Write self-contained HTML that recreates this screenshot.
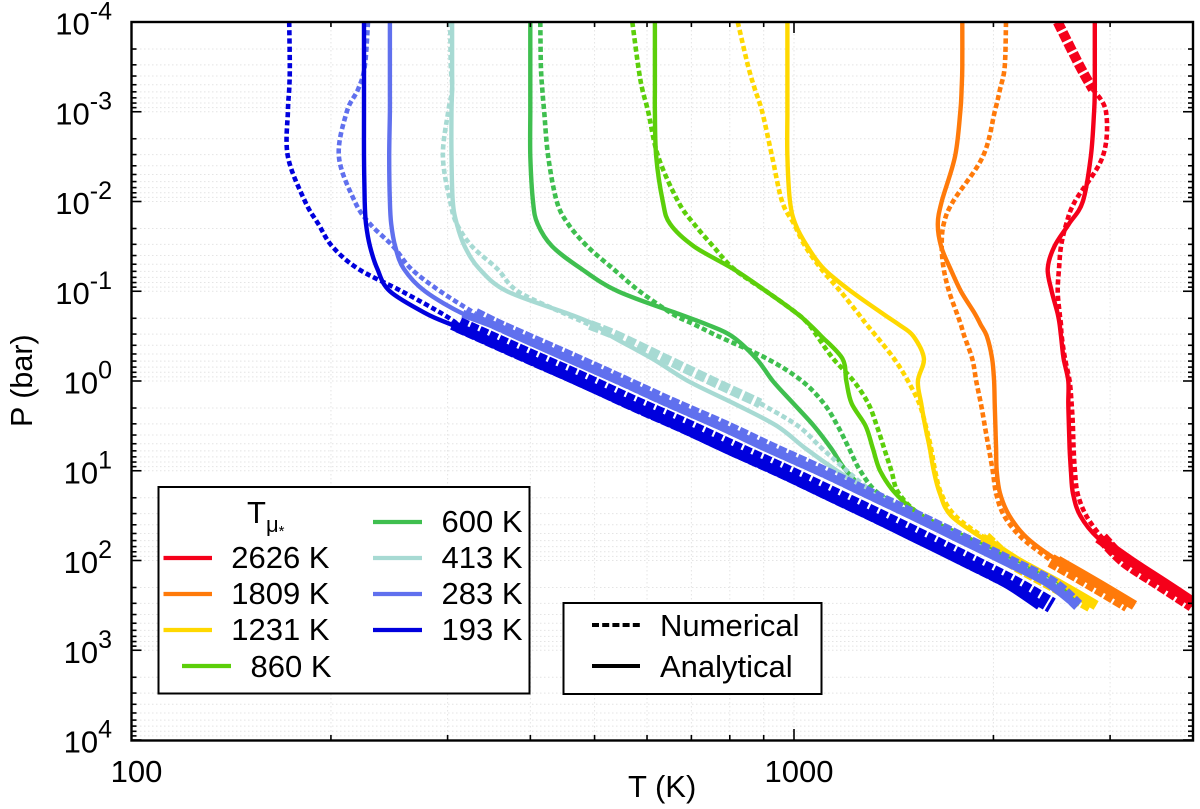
<!DOCTYPE html>
<html>
<head>
<meta charset="utf-8">
<title>T-P profiles</title>
<style>
html,body{margin:0;padding:0;background:#fff;}
svg{display:block;}
text{font-family:"Liberation Sans",sans-serif;fill:#000;}
</style>
</head>
<body>
<svg id="chart" xmlns="http://www.w3.org/2000/svg" width="1200" height="809" viewBox="0 0 1200 809">
  <defs><clipPath id="plot-clip"><rect x="132" y="23" width="1060" height="717"/></clipPath></defs>
  <g id="grid"></g>
  <g id="marks" clip-path="url(#plot-clip)"></g>
  <g id="ticks"></g>
  <rect x="131.5" y="22" width="1061.5" height="718.5" fill="none" stroke="#000" stroke-width="2.4"/>
  <g id="labels"></g>
  <text x="628" y="797" font-size="31">T (K)</text>
  <text transform="translate(32,427) rotate(-90)" font-size="30.5">P (bar)</text>

  <g>
    <rect x="158.5" y="487" width="371" height="206.5" fill="#fff" stroke="#000" stroke-width="2"/>
    <text x="247" y="523" font-size="31">T<tspan font-size="22" dy="9">μ</tspan><tspan font-size="15" dy="4">*</tspan></text>
    <g font-size="31" text-anchor="end">
      <text x="329.5" y="568">2626 K</text>
      <text x="329.5" y="604">1809 K</text>
      <text x="329.5" y="640">1231 K</text>
      <text x="331.5" y="677">860 K</text>
      <text x="522.5" y="532">600 K</text>
      <text x="522.5" y="568">413 K</text>
      <text x="522.5" y="604">283 K</text>
      <text x="522.5" y="640">193 K</text>
    </g>
    <g stroke-width="4.2">
      <line x1="163.5" x2="212" y1="558" y2="558" stroke="#f5001a"/>
      <line x1="163.5" x2="212" y1="594" y2="594" stroke="#ff7a0a"/>
      <line x1="163.5" x2="212" y1="630" y2="630" stroke="#ffd800"/>
      <line x1="182" x2="231" y1="666" y2="666" stroke="#5ccf0a"/>
      <line x1="373" x2="422" y1="522" y2="522" stroke="#3fbf4f"/>
      <line x1="373" x2="422" y1="558" y2="558" stroke="#a7dad3"/>
      <line x1="373" x2="422" y1="594" y2="594" stroke="#6070ee"/>
      <line x1="373" x2="422" y1="630" y2="630" stroke="#0000dd"/>
    </g>
  </g>

  <g>
    <rect x="563.5" y="603" width="258" height="91" fill="#fff" stroke="#000" stroke-width="2"/>
    <line x1="592" x2="640" y1="625" y2="625" stroke="#000" stroke-width="4" stroke-dasharray="7 3.2"/>
    <line x1="592" x2="640" y1="666" y2="666" stroke="#000" stroke-width="4"/>
    <text x="660" y="636" font-size="31">Numerical</text>
    <text x="660" y="677" font-size="31">Analytical</text>
  </g>
</svg>
<script>
// Pressure levels shared by all profiles: log10(P / bar)
const logP = [-4,-3.5,-3.25,-3,-2.5,-2,-1.75,-1.5,-1.25,-1,-0.75,-0.625,-0.5,-0.25,0,0.25,0.5,0.75,1,1.25,1.5,1.75,2,2.25,2.5];

// Temperature profiles: log10(T / K) at each pressure level
const analytic2626 = [3.454,3.454,3.454,3.453,3.448,3.436,3.415,3.393,3.383,3.389,3.398,3.401,3.403,3.407,3.414,3.414,3.415,3.416,3.418,3.421,3.432,3.459,3.507,3.559,3.610];
const numeric2626  = [3.398,3.432,3.451,3.471,3.466,3.424,3.411,3.403,3.400,3.398,3.401,3.403,3.404,3.409,3.416,3.419,3.421,3.422,3.424,3.428,3.441,3.465,3.498,3.549,3.601];
const analytic1809 = [3.254,3.254,3.253,3.251,3.243,3.223,3.217,3.222,3.236,3.252,3.273,3.282,3.291,3.299,3.302,3.303,3.304,3.305,3.306,3.311,3.325,3.352,3.398,3.457,3.514];
const numeric1809  = [3.320,3.318,3.311,3.303,3.285,3.240,3.226,3.223,3.226,3.234,3.246,3.252,3.257,3.269,3.275,3.282,3.288,3.294,3.300,3.305,3.317,3.344,3.388,3.447,3.504];
const analytic1231 = [2.990,2.990,2.990,2.990,2.990,2.994,3.002,3.020,3.045,3.086,3.134,3.159,3.180,3.196,3.187,3.192,3.198,3.205,3.211,3.220,3.237,3.284,3.335,3.397,3.456];
const numeric1231  = [2.915,2.931,2.941,2.952,2.967,2.982,3.000,3.017,3.041,3.070,3.097,3.110,3.124,3.151,3.172,3.189,3.199,3.207,3.213,3.222,3.243,3.288,3.326,3.386,3.448];
const analytic860  = [2.790,2.790,2.790,2.790,2.792,2.802,2.813,2.849,2.908,2.958,3.005,3.024,3.041,3.073,3.079,3.087,3.108,3.119,3.130,3.153,3.193,3.263,3.329,3.393,3.429];
const numeric860   = [2.756,2.765,2.771,2.780,2.795,2.825,2.849,2.878,2.909,2.958,3.005,3.023,3.035,3.059,3.090,3.112,3.125,3.136,3.147,3.158,3.193,3.263,3.329,3.393,3.429];
const analytic600  = [2.602,2.602,2.602,2.602,2.602,2.606,2.613,2.635,2.679,2.734,2.825,2.870,2.906,2.943,2.968,2.999,3.030,3.056,3.079,3.115,3.183,3.258,3.326,3.391,3.426];
const numeric600   = [2.617,2.618,2.620,2.623,2.629,2.642,2.659,2.688,2.727,2.767,2.816,2.851,2.885,2.959,3.012,3.045,3.066,3.083,3.100,3.127,3.183,3.258,3.326,3.391,3.426];
const analytic413  = [2.484,2.484,2.484,2.483,2.483,2.485,2.491,2.503,2.525,2.567,2.659,2.700,2.724,2.786,2.840,2.909,2.974,3.017,3.065,3.118,3.175,3.246,3.315,3.382,3.423];
const numeric413   = [2.481,2.482,2.484,2.478,2.470,2.481,2.491,2.514,2.552,2.583,2.654,2.692,2.734,2.805,2.876,2.949,3.006,3.042,3.080,3.122,3.183,3.254,3.323,3.390,3.423];
const analytic283  = [2.390,2.390,2.390,2.390,2.389,2.390,2.392,2.398,2.411,2.443,2.500,2.546,2.583,2.659,2.736,2.810,2.887,2.959,3.035,3.106,3.177,3.246,3.315,3.382,3.426];
const numeric283   = [2.357,2.352,2.342,2.325,2.313,2.337,2.360,2.395,2.422,2.466,2.519,2.553,2.591,2.668,2.743,2.817,2.895,2.967,3.042,3.113,3.184,3.254,3.323,3.390,3.429];
const analytic193  = [2.351,2.351,2.351,2.351,2.351,2.352,2.354,2.360,2.371,2.390,2.445,2.484,2.522,2.598,2.674,2.748,2.825,2.897,2.973,3.044,3.115,3.184,3.253,3.320,3.371];
const numeric193   = [2.238,2.239,2.238,2.236,2.236,2.262,2.282,2.303,2.342,2.408,2.469,2.494,2.532,2.608,2.685,2.758,2.835,2.908,2.983,3.054,3.125,3.195,3.263,3.330,3.389];

// Axis ticks
const xMajorTicks = [100,1000];
const xMinorTicks = [200,300,400,500,600,700,800,900,2000,3000];
const xTickLabels = ["100","1000"];
const yDecades = [-4,-3,-2,-1,0,1,2,3,4];
const yDecadeLabels = ["-4","-3","-2","-1","0","1","2","3","4"];
const minorFactors = [2,3,4,5,6,7,8,9];

// Axis functions
const xScale = function(logT){ return 131.5 + (logT - 2) * 662.5; };
const yScale = function(lp){ return 22 + (lp + 4) * 89.75; };

const NS = "http://www.w3.org/2000/svg";
function make(parent, tag, attrs){
  const el = document.createElementNS(NS, tag);
  for (const k in attrs) el.setAttribute(k, attrs[k]);
  parent.appendChild(el);
  return el;
}

// Smooth path through the points i0..i1 of a profile
function pathFor(values, i0, i1){
  const pts = [];
  for (let i = i0; i <= i1; i++) pts.push([xScale(values[i]), yScale(logP[i])]);
  let d = "M" + pts[0][0].toFixed(1) + " " + pts[0][1].toFixed(1);
  for (let i = 0; i < pts.length - 1; i++){
    const p0 = pts[Math.max(i-1,0)], p1 = pts[i], p2 = pts[i+1], p3 = pts[Math.min(i+2,pts.length-1)];
    const c1 = [p1[0] + (p2[0]-p0[0])/6, p1[1] + (p2[1]-p0[1])/6];
    const c2 = [p2[0] - (p3[0]-p1[0])/6, p2[1] - (p3[1]-p1[1])/6];
    d += "C" + c1[0].toFixed(1) + " " + c1[1].toFixed(1) + " " + c2[0].toFixed(1) + " " + c2[1].toFixed(1) + " " + p2[0].toFixed(1) + " " + p2[1].toFixed(1);
  }
  return d;
}
function levelIndex(lp){ return logP.indexOf(lp); }

const seriesList = [
  {id:"2626k", color:"#f5001a", a:analytic2626, n:numeric2626, thick:[[-4,-3.25,10,"9 2.6"],[1.75,2.5,13,"8.5 2.2"]], deep:[1.75,10]},
  {id:"1809k", color:"#ff7a0a", a:analytic1809, n:numeric1809, thick:[[2,2.5,14,"8.5 2.2"]], deep:[2,10]},
  {id:"1231k", color:"#ffd800", a:analytic1231, n:numeric1231, thick:[[1.75,2.5,14,"8.5 2.2"]], deep:[1.75,10]},
  {id:"860k",  color:"#5ccf0a", a:analytic860,  n:numeric860,  thick:[], deep:null},
  {id:"600k",  color:"#3fbf4f", a:analytic600,  n:numeric600,  thick:[], deep:null},
  {id:"413k",  color:"#a7dad3", a:analytic413,  n:numeric413,  thick:[[-0.625,0.25,10,"10 3"]], deep:null},
  {id:"283k",  color:"#6070ee", a:analytic283,  n:numeric283,  thick:[[-0.75,2.5,12,"8.5 2.2"]], deep:[-0.75,8]},
  {id:"193k",  color:"#0000dd", a:analytic193,  n:numeric193,  thick:[[-0.625,2.5,16,"8.5 2.2"]], deep:[-0.625,10]}
];

// Grid lines
const grid = document.getElementById("grid");
const ticks = document.getElementById("ticks");
const labels = document.getElementById("labels");
const gridAttrs = {stroke:"#e4e4e4","stroke-width":"1","stroke-dasharray":"1.5 2.5",fill:"none"};

xMajorTicks.concat(xMinorTicks).forEach(function(T){
  const x = xScale(Math.log10(T));
  const major = xMajorTicks.indexOf(T) >= 0;
  const len = major ? 11 : 5;
  if (T !== 100){
    const g = make(grid, "line", Object.assign({x1:x,x2:x,y1:22,y2:740}, gridAttrs));
    
    
  }
  [[740,740-len],[22,22+len]].forEach(function(ys){
    const t = make(ticks, "line", {x1:x,x2:x,y1:ys[0],y2:ys[1],stroke:"#000","stroke-width":"1.6"});
    
    
  });
});

yDecades.forEach(function(dec){
  const levels = [{lp:dec, major:true}];
  if (dec < 4) minorFactors.forEach(function(f){ levels.push({lp:dec + Math.log10(f), major:false}); });
  levels.forEach(function(level){
    const y = yScale(level.lp);
    const len = level.major ? 10 : 5;
    const g = make(grid, "line", Object.assign({x1:132,x2:1193,y1:y,y2:y}, gridAttrs));
    
    
    [[131.5,131.5+len],[1193,1193-len]].forEach(function(xs){
      const t = make(ticks, "line", {x1:xs[0],x2:xs[1],y1:y,y2:y,stroke:"#000","stroke-width":"1.6"});
      
      
    });
  });
});

// Tick labels
xMajorTicks.forEach(function(T, i){
  const el = make(labels, "text", {x:xScale(Math.log10(T)) + 5, y:782, "font-size":"31", "text-anchor":"middle"});
  el.textContent = xTickLabels[i];
  
  
});
yDecades.forEach(function(dec, i){
  const y = yScale(dec);
  const el = make(labels, "text", {x:112, y:y + 12.5, "font-size":"31", "text-anchor":"end"});
  
  
  const base = make(el, "tspan", {});
  base.textContent = "10";
  const exp = make(el, "tspan", {"font-size":"25", dy:"-15"});
  exp.textContent = yDecadeLabels[i];
});

// Series
const marks = document.getElementById("marks");
seriesList.forEach(function(s){
  const last = logP.length - 1;
  const g = make(marks, "g", {fill:"none"});
  
  

  // thin dashes only where the numerical curve is not drawn as a thick band
  const spans = s.thick.map(function(t){ return [levelIndex(t[0]), levelIndex(t[1])]; });
  let start = 0;
  const thinRanges = [];
  spans.forEach(function(sp){
    if (sp[0] > start) thinRanges.push([start, sp[0]]);
    start = sp[1];
  });
  if (start < last) thinRanges.push([start, last]);

  thinRanges.forEach(function(r){
    const dashed = make(g, "path", {d:pathFor(s.n, r[0], r[1]), stroke:s.color, "stroke-width":"4.6", "stroke-dasharray":"5.2 3"});
    
    
  });

  s.thick.forEach(function(t){
    const band = make(g, "path", {d:pathFor(s.n, levelIndex(t[0]), levelIndex(t[1])), stroke:s.color, "stroke-width":t[2], "stroke-dasharray":t[3]});
    
    
  });

  const solid = make(g, "path", {d:pathFor(s.a, 0, last), stroke:s.color, "stroke-width":"4.4"});
  
  

  if (s.deep){
    const deep = make(g, "path", {d:pathFor(s.a, levelIndex(s.deep[0]), last), stroke:s.color, "stroke-width":s.deep[1]});
    
    
  }
});
</script>
</body>
</html>
